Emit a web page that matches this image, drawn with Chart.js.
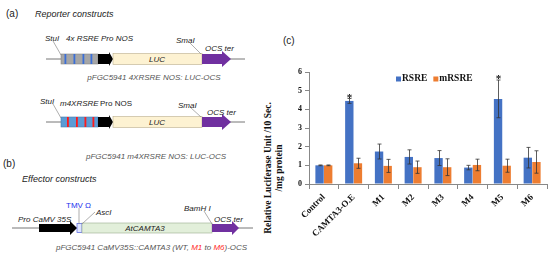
<!DOCTYPE html>
<html>
<head>
<meta charset="utf-8">
<script src="https://cdn.jsdelivr.net/npm/chart.js@4.4.0/dist/chart.umd.min.js"></script>
<style>
    html, body { margin: 0; padding: 0; background: #fff; }
    body { width: 550px; height: 257px; position: relative; overflow: hidden; font-family: 'Liberation Sans', Arial, sans-serif; }
    #diagram { position: absolute; left: 0; top: 0; }
    #chartBox { position: absolute; left: 255px; top: 60px; width: 295px; height: 197px; }
    .panel { position: absolute; font-size: 10px; color: #222; }
    .ytitle {
        position: absolute; left: 194px; top: 157px; width: 160px; height: 22px;
        transform-origin: 80px 11px;
        transform: rotate(-90deg);
        font-family: 'Liberation Serif', 'Times New Roman', serif;
        font-weight: bold; font-size: 9.5px; line-height: 11px;
        text-align: center; white-space: nowrap; color: #111;
    }
</style>
</head>
<body>

<svg id="diagram" width="270" height="257" font-family="Liberation Sans, Arial, sans-serif">
    <!-- (a) reporter constructs -->
    <text x="6" y="17" font-size="10" fill="#222">(a)</text>
    <text x="35" y="17" font-size="9" font-style="italic" fill="#222">Reporter constructs</text>

    <line x1="46" y1="59" x2="245" y2="59" stroke="#777" stroke-width="1"/>
    <rect x="61" y="54" width="37" height="10" fill="#a6a6a6" stroke="#888" stroke-width="0.6"/>
    <rect x="64.5" y="54" width="1.8" height="10" fill="#3a6fd8"/>
    <rect x="73.5" y="54" width="1.8" height="10" fill="#3a6fd8"/>
    <rect x="82.5" y="54" width="1.8" height="10" fill="#3a6fd8"/>
    <rect x="90.5" y="54" width="1.8" height="10" fill="#3a6fd8"/>
    <polygon points="98,54 109,54 109,52 113,59 109,66 109,64 98,64" fill="#000"/>
    <rect x="113" y="53.5" width="89" height="11" fill="#fdf2d2" stroke="#b9ad8c" stroke-width="0.6"/>
    <text x="157" y="62" font-size="8" font-style="italic" text-anchor="middle" fill="#222">LUC</text>
    <polygon points="202,54 222,54 222,51 231,59 222,67 222,64 202,64" fill="#7030a0"/>
    <line x1="53" y1="41" x2="61" y2="55" stroke="#777" stroke-width="0.6"/>
    <line x1="190" y1="43" x2="201" y2="54" stroke="#777" stroke-width="0.6"/>
    <text x="45" y="41" font-size="8" font-style="italic" fill="#222">StuI</text>
    <text x="66" y="41" font-size="8" font-style="italic" fill="#222">4x RSRE</text>
    <text x="101" y="41" font-size="8" font-style="italic" fill="#222">Pro NOS</text>
    <text x="176" y="43" font-size="8" font-style="italic" fill="#222">SmaI</text>
    <text x="205" y="51" font-size="8" font-style="italic" fill="#222">OCS ter</text>
    <text x="154" y="80" font-size="8" font-style="italic" text-anchor="middle" fill="#555">pFGC5941 4XRSRE NOS: LUC-OCS</text>

    <line x1="46" y1="122" x2="245" y2="122" stroke="#777" stroke-width="1"/>
    <rect x="61" y="117" width="37" height="10" fill="#5b9bd5" stroke="#4a7fb0" stroke-width="0.6"/>
    <rect x="67" y="117" width="1.8" height="10" fill="#ff1a1a"/>
    <rect x="76" y="117" width="1.8" height="10" fill="#ff1a1a"/>
    <rect x="84.5" y="117" width="1.8" height="10" fill="#ff1a1a"/>
    <rect x="92.5" y="117" width="1.8" height="10" fill="#ff1a1a"/>
    <polygon points="98,117 109,117 109,115 113,122 109,129 109,127 98,127" fill="#000"/>
    <rect x="113" y="116.5" width="89" height="11" fill="#fdf2d2" stroke="#b9ad8c" stroke-width="0.6"/>
    <text x="157" y="125" font-size="8" font-style="italic" text-anchor="middle" fill="#222">LUC</text>
    <polygon points="202,117 222,117 222,114 231,122 222,130 222,127 202,127" fill="#7030a0"/>
    <line x1="53" y1="104" x2="61" y2="118" stroke="#777" stroke-width="0.6"/>
    <line x1="190" y1="107" x2="201" y2="117" stroke="#777" stroke-width="0.6"/>
    <text x="40" y="104" font-size="8" font-style="italic" fill="#222">StuI</text>
    <text x="60" y="106" font-size="8" font-style="italic" fill="#222">m4XRSRE</text>
    <text x="100" y="106" font-size="8" fill="#222">Pro NOS</text>
    <text x="178" y="108" font-size="8" font-style="italic" fill="#222">SmaI</text>
    <text x="207" y="115" font-size="8" font-style="italic" fill="#222">OCS ter</text>
    <text x="156" y="159" font-size="8" font-style="italic" text-anchor="middle" fill="#555">pFGC5941 m4XRSRE NOS: LUC-OCS</text>

    <!-- (b) effector constructs -->
    <text x="3" y="167" font-size="10" fill="#222">(b)</text>
    <text x="22" y="182" font-size="9" font-style="italic" fill="#222">Effector constructs</text>

    <line x1="12" y1="228" x2="253" y2="228" stroke="#777" stroke-width="1"/>
    <polygon points="39,224 70,224 70,221 77,228 70,235 70,232 39,232" fill="#000"/>
    <rect x="77" y="223.5" width="5" height="9" fill="#dfe6ff" stroke="#4f5fe0" stroke-width="0.7"/>
    <rect x="82" y="223" width="130" height="10" fill="#e2efda" stroke="#9aab8e" stroke-width="0.6"/>
    <text x="145" y="231" font-size="8" font-style="italic" text-anchor="middle" fill="#222">AtCAMTA3</text>
    <polygon points="212,224 232,224 232,221 239,228 232,235 232,232 212,232" fill="#7030a0"/>
    <line x1="79" y1="208" x2="79" y2="224" stroke="#777" stroke-width="0.6"/>
    <line x1="95" y1="212" x2="82" y2="224" stroke="#777" stroke-width="0.6"/>
    <line x1="204" y1="211" x2="212" y2="224" stroke="#777" stroke-width="0.6"/>
    <text x="66" y="208" font-size="8" fill="#2233ee">TMV Ω</text>
    <text x="96" y="215" font-size="8" font-style="italic" fill="#222">AscI</text>
    <text x="18" y="222" font-size="8" font-style="italic" fill="#222">Pro CaMV 35S</text>
    <text x="184" y="211" font-size="8" font-style="italic" fill="#222">BamH I</text>
    <text x="214" y="222" font-size="8" font-style="italic" fill="#222">OCS ter</text>
    <text x="56" y="250" font-size="8" font-style="italic" fill="#555">pFGC5941 CaMV35S::CAMTA3 (WT, <tspan fill="#ff2a2a">M1</tspan> to <tspan fill="#ff2a2a">M6</tspan>)-OCS</text>
</svg>

<div class="panel" style="left:283px; top:35px;">(c)</div>
<div class="ytitle">Relative Luciferase Unit /10 Sec.<br>/mg protein</div>

<div id="chartBox"><canvas id="lucChart"></canvas></div>

<script>
// ===== DATA =====
const categories = ['Control', 'CAMTA3-O.E', 'M1', 'M2', 'M3', 'M4', 'M5', 'M6'];
const rsreValues = [1.0, 4.45, 1.74, 1.45, 1.39, 0.88, 4.56, 1.41];
const rsreErrors = [0.02, 0.13, 0.40, 0.38, 0.40, 0.12, 1.01, 0.55];
const mrsreValues = [1.0, 1.11, 0.97, 0.90, 0.90, 1.02, 0.98, 1.18];
const mrsreErrors = [0.02, 0.27, 0.35, 0.33, 0.45, 0.31, 0.35, 0.60];
const rsreStars = ['', '*', '', '', '', '', '*', ''];
const yTicks = [0, 1, 2, 3, 4, 5, 6];

const serif = "'Liberation Serif', 'Times New Roman', serif";

// ===== PLUGINS =====
const errorBars = {
    id: 'errorBars',
    afterDatasetsDraw(chart) {
        const { ctx } = chart;
        const yScale = chart.scales.y;
        ctx.save();
        ctx.strokeStyle = '#333';
        ctx.lineWidth = 0.8;
        chart.data.datasets.forEach((ds, i) => {
            const meta = chart.getDatasetMeta(i);
            meta.data.forEach((bar, j) => {
                const v = ds.data[j];
                const e = ds.errors[j];
                const top = yScale.getPixelForValue(v + e);
                const bottom = yScale.getPixelForValue(v - e);
                const x = Math.round(bar.x) + 0.5;
                ctx.beginPath();
                ctx.moveTo(x, top);
                ctx.lineTo(x, bottom);
                ctx.moveTo(x - 2, top);
                ctx.lineTo(x + 2, top);
                ctx.moveTo(x - 2, bottom);
                ctx.lineTo(x + 2, bottom);
                ctx.stroke();

                if (ds.stars && ds.stars[j]) {
                    ctx.fillStyle = '#111';
                    ctx.font = 'bold 11px ' + serif;
                    ctx.textAlign = 'center';
                    ctx.textBaseline = 'alphabetic';
                    ctx.fillText(ds.stars[j], x, top + 2);
                }
            });
        });
        ctx.restore();
    }
};

const insideLegend = {
    id: 'insideLegend',
    afterDraw(chart) {
        const { ctx, chartArea } = chart;
        let x = chartArea.left + 87;
        const y = chartArea.top + 7;
        ctx.save();
        ctx.font = 'bold 9.5px ' + serif;
        ctx.textBaseline = 'middle';
        ctx.textAlign = 'left';
        chart.data.datasets.forEach(ds => {
            ctx.fillStyle = ds.backgroundColor;
            ctx.fillRect(x, y - 2.5, 5, 5);
            ctx.fillStyle = '#111';
            ctx.fillText(ds.label, x + 6, y);
            x += 6 + ctx.measureText(ds.label).width + 6;
        });
        ctx.restore();
    }
};

// ===== CHART =====
new Chart(document.getElementById('lucChart'), {
    type: 'bar',
    data: {
        labels: categories,
        datasets: [
            {
                label: 'RSRE',
                data: rsreValues,
                errors: rsreErrors,
                stars: rsreStars,
                backgroundColor: '#4472c4',
                categoryPercentage: 0.58,
                barPercentage: 0.97
            },
            {
                label: 'mRSRE',
                data: mrsreValues,
                errors: mrsreErrors,
                backgroundColor: '#ed7d31',
                categoryPercentage: 0.58,
                barPercentage: 0.97
            }
        ]
    },
    options: {
        responsive: true,
        maintainAspectRatio: false,
        animation: false,
        layout: { padding: { top: 12, right: 3, left: 0, bottom: 0 } },
        plugins: {
            legend: { display: false },
            tooltip: { enabled: false }
        },
        scales: {
            x: {
                grid: { drawOnChartArea: false, tickLength: 5, color: '#888', offset: true },
                border: { color: '#888' },
                ticks: {
                    color: '#111',
                    font: { family: serif, weight: 'bold', size: 9 },
                    minRotation: 45,
                    maxRotation: 45,
                    padding: 3
                },
                afterFit(scale) { scale.height = 73; }
            },
            y: {
                min: yTicks[0],
                max: yTicks[yTicks.length - 1],
                afterBuildTicks(scale) { scale.ticks = yTicks.map(v => ({ value: v })); },
                grid: { drawOnChartArea: false, tickLength: 4, color: '#888' },
                border: { color: '#888' },
                ticks: {
                    color: '#111',
                    font: { family: serif, weight: 'bold', size: 8 },
                    padding: 3
                },
                afterFit(scale) { scale.width = 54; }
            }
        }
    },
    plugins: [errorBars, insideLegend]
});
</script>
</body>
</html>
